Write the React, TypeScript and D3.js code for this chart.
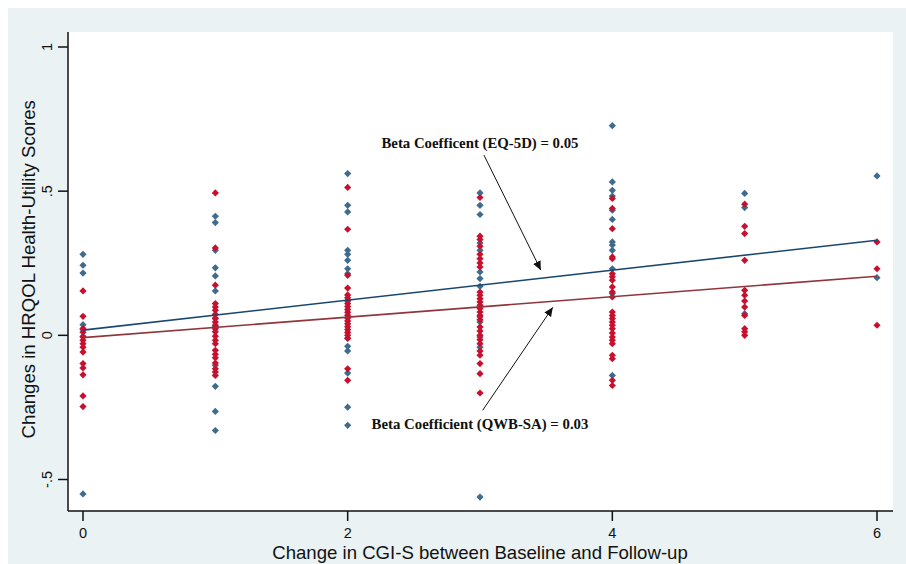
import React from "react";
import * as d3 from "d3";

const cgiChange = [0, 1, 2, 3, 4, 5, 6];

const eq5dByCgi: number[][] = [
  [0.281, 0.243, 0.216, 0.037, 0.02, -0.003, -0.55],
  [0.413, 0.391, 0.295, 0.234, 0.206, 0.154, 0.06, 0.03, -0.104, -0.177, -0.264, -0.33],
  [0.561, 0.451, 0.428, 0.295, 0.281, 0.26, 0.231, 0.214, 0.12, -0.011, -0.038, -0.054, -0.131, -0.249, -0.312],
  [0.494, 0.451, 0.419, 0.32, 0.295, 0.22, 0.197, 0.17, 0.064, 0.046, -0.006, -0.041, -0.561],
  [0.727, 0.532, 0.503, 0.483, 0.434, 0.402, 0.324, 0.313, 0.295, 0.231, 0.145, -0.139],
  [0.492, 0.443, 0.075],
  [0.553, 0.2],
];

const qwbByCgi: number[][] = [
  [0.154, 0.066, 0.024, 0.011, -0.006, -0.017, -0.029, -0.041, -0.058, -0.098, -0.113, -0.137, -0.21, -0.247],
  [0.494, 0.303, 0.174, 0.11, 0.098, 0.087, 0.073, 0.058, 0.046, 0.035, 0.023, 0.012, -0.003, -0.017, -0.029, -0.052, -0.066, -0.078, -0.096, -0.116, -0.127, -0.139],
  [0.513, 0.368, 0.208, 0.164, 0.14, 0.13, 0.12, 0.11, 0.1, 0.09, 0.08, 0.07, 0.06, 0.05, 0.04, 0.03, 0.02, 0.01, 0.0, -0.01, -0.116, -0.156],
  [0.478, 0.344, 0.332, 0.309, 0.281, 0.266, 0.251, 0.237, 0.15, 0.139, 0.127, 0.116, 0.104, 0.093, 0.081, 0.069, 0.054, 0.029, 0.015, 0.0, -0.015, -0.029, -0.054, -0.069, -0.098, -0.133, -0.2],
  [0.475, 0.44, 0.37, 0.272, 0.266, 0.214, 0.203, 0.191, 0.168, 0.15, 0.133, 0.081, 0.069, 0.058, 0.046, 0.035, 0.023, 0.008, -0.006, -0.017, -0.029, -0.069, -0.081, -0.156, -0.174],
  [0.455, 0.378, 0.353, 0.26, 0.156, 0.139, 0.119, 0.098, 0.069, 0.023, 0.012, 0.0],
  [0.324, 0.231, 0.035],
];

// fitted lines: [intercept, slope]
const eq5dFit = [0.018, 0.052];
const qwbFit = [-0.008, 0.0355];

const xTicks = [0, 2, 4, 6];
const yTicks = [-0.5, 0, 0.5, 1];
const yTickLabels = ["-.5", "0", ".5", "1"];

const annotations = [
  { text: "Beta Coefficent (EQ-5D) = 0.05", tx: 3.0, ty: 0.667, x1: 3.03, y1: 0.625, x2: 3.46, y2: 0.226 },
  { text: "Beta Coefficient (QWB-SA) = 0.03", tx: 3.0, ty: -0.309, x1: 3.02, y1: -0.26, x2: 3.55, y2: 0.097 },
];

const W = 906;
const H = 564;
const BLUE_PT = "#3f6b8c";
const RED_PT = "#c8102e";
const BLUE_LN = "#1a476f";
const RED_LN = "#90353b";

function diamond(cx: number, cy: number, r: number) {
  return `M${cx},${cy - r}L${cx + r},${cy}L${cx},${cy + r}L${cx - r},${cy}Z`;
}

export default function App() {
  const x = d3.scaleLinear().domain([0, 6]).range([83, 877]);
  const y = d3.scaleLinear().domain([-0.5, 1]).range([479.5, 47]);
  const left = 68, right = 893, top = 32, bottom = 511;

  const fitPath = (fit: number[]) =>
    d3.line<[number, number]>().x((d) => x(d[0])).y((d) => y(d[1]))(
      [0, 6].map((v) => [v, fit[0] + fit[1] * v] as [number, number])
    ) || "";

  const pts = (groups: number[][]) =>
    groups.flatMap((vals, i) => vals.map((v) => [cgiChange[i], v] as [number, number]));

  const sans = "'Liberation Sans', Arial, sans-serif";
  const serif = "'Liberation Serif', 'Times New Roman', serif";

  return (
    <svg width={W} height={H} style={{ position: "absolute", left: 0, top: 0 }}>
      <defs>
        <marker id="arr" viewBox="0 0 10 10" refX="10" refY="5" markerWidth="9" markerHeight="9" markerUnits="userSpaceOnUse" orient="auto">
          <path d="M0,0.5L10,5L0,9.5Z" fill="#111" />
        </marker>
      </defs>
      <rect x={8} y={8} width={W - 8} height={H - 8} fill="#eaf2f3" />
      <rect x={left} y={top} width={right - left} height={bottom - top} fill="#ffffff" />

      {pts(eq5dByCgi).map((p, i) => (
        <path key={"b" + i} d={diamond(x(p[0]), y(p[1]), 3.6)} fill={BLUE_PT} />
      ))}
      {pts(qwbByCgi).map((p, i) => (
        <path key={"r" + i} d={diamond(x(p[0]), y(p[1]), 3.6)} fill={RED_PT} />
      ))}

      <path d={fitPath(eq5dFit)} stroke={BLUE_LN} strokeWidth={1.6} fill="none" />
      <path d={fitPath(qwbFit)} stroke={RED_LN} strokeWidth={1.6} fill="none" />

      {/* axes */}
      <line x1={left} x2={left} y1={top} y2={bottom} stroke="#111" strokeWidth={1.5} />
      <line x1={left} x2={right} y1={bottom} y2={bottom} stroke="#111" strokeWidth={1.5} />
      {yTicks.map((t, i) => (
        <g key={"yt" + i}>
          <line x1={left - 10} x2={left} y1={y(t)} y2={y(t)} stroke="#111" strokeWidth={1.5} />
          <text
            transform={`translate(${52},${y(t)}) rotate(-90)`}
            textAnchor="middle"
            fontFamily={sans}
            fontSize={14.5}
            fill="#111"
          >
            {yTickLabels[i]}
          </text>
        </g>
      ))}
      {xTicks.map((t, i) => (
        <g key={"xt" + i}>
          <line x1={x(t)} x2={x(t)} y1={bottom} y2={bottom + 10} stroke="#111" strokeWidth={1.5} />
          <text x={x(t)} y={538} textAnchor="middle" fontFamily={sans} fontSize={14.5} fill="#111">
            {t}
          </text>
        </g>
      ))}
      <text x={(x(0) + x(6)) / 2} y={559} textAnchor="middle" fontFamily={sans} fontSize={18.6} fill="#111">
        Change in CGI-S between Baseline and Follow-up
      </text>
      <text
        transform={`translate(${35},${(y(-0.5) + y(1)) / 2 + 6}) rotate(-90)`}
        textAnchor="middle"
        fontFamily={sans}
        fontSize={18.6}
        fill="#111"
      >
        Changes in HRQOL Health-Utility Scores
      </text>

      {annotations.map((a, i) => (
        <g key={"an" + i}>
          <text x={x(a.tx)} y={y(a.ty) + 5} textAnchor="middle" fontFamily={serif} fontWeight="bold" fontSize={14.8} fill="#111">
            {a.text}
          </text>
          <line x1={x(a.x1)} y1={y(a.y1)} x2={x(a.x2)} y2={y(a.y2)} stroke="#111" strokeWidth={1} markerEnd="url(#arr)" />
        </g>
      ))}
    </svg>
  );
}
